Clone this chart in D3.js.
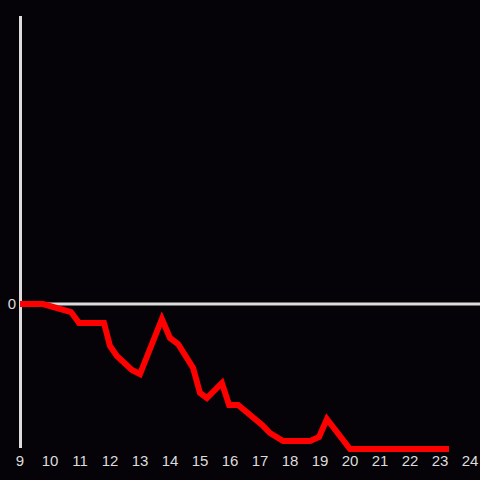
<!DOCTYPE html>
<html lang="en">
<head>
    <meta charset="UTF-8" />
    <title>line chart</title>
    <script src="https://d3js.org/d3.v7.min.js"></script>
    <style>
        html, body { margin: 0; padding: 0; background: #050307; }
        svg { display: block; }
        .tick-label { fill: #dcdcdc; font-family: "Liberation Sans", Arial, sans-serif; font-size: 15px; }
    </style>
</head>
<body>
    <script>
        // data: hour of day vs value
        const hours = [9, 9.77, 10.7, 10.97, 11.8, 12.0, 12.23, 12.73, 13.0, 13.73, 14.0, 14.27, 14.77, 15.0, 15.23, 15.73, 15.97, 16.27, 17.07, 17.33, 17.77, 18.67, 18.97, 19.23, 20.0, 23.3];
        const values = [0, 0, -8, -19, -19, -42, -52, -66, -70, -15, -34, -40, -64, -89, -94, -79, -101, -101, -121, -129, -137, -137, -133, -115, -145, -145];
        const xTicks = [9, 10, 11, 12, 13, 14, 15, 16, 17, 18, 19, 20, 21, 22, 23, 24];
        const yTicks = [0];

        const data = hours.map((h, i) => ({ h: h, v: values[i] }));

        const width = 480, height = 480;

        const x = d3.scaleLinear().domain([9, 24]).range([20, 470]);
        const y = d3.scaleLinear().domain([-145, 288]).range([449, 16]);

        const svg = d3.select("body").append("svg")
            .attr("width", width)
            .attr("height", height);

        svg.append("rect")
            .attr("width", width).attr("height", height)
            .attr("fill", "#050307");

        // zero line
        svg.append("line")
            .attr("x1", x(9)).attr("x2", width)
            .attr("y1", y(0)).attr("y2", y(0))
            .attr("stroke", "#dcdcdc")
            .attr("stroke-width", 3);

        // y axis line
        svg.append("line")
            .attr("x1", x(9) + 0.5).attr("x2", x(9) + 0.5)
            .attr("y1", y(288)).attr("y2", 448)
            .attr("stroke", "#dcdcdc")
            .attr("stroke-width", 3);

        // x labels
        svg.selectAll(".xl")
            .data(xTicks)
            .enter()
            .append("text")
            .attr("class", "tick-label")
            .attr("x", d => x(d))
            .attr("y", 466)
            .attr("text-anchor", "middle")
            .text(d => d);

        // y labels
        svg.selectAll(".yl")
            .data(yTicks)
            .enter()
            .append("text")
            .attr("class", "tick-label")
            .attr("x", 12)
            .attr("y", d => y(d))
            .attr("dy", "0.35em")
            .attr("text-anchor", "middle")
            .text(d => d);

        const line = d3.line()
            .x(d => x(d.h))
            .y(d => y(d.v));

        svg.append("path")
            .datum(data)
            .attr("d", line)
            .attr("fill", "none")
            .attr("stroke", "#ff0000")
            .attr("stroke-width", 6);
    </script>
</body>
</html>
